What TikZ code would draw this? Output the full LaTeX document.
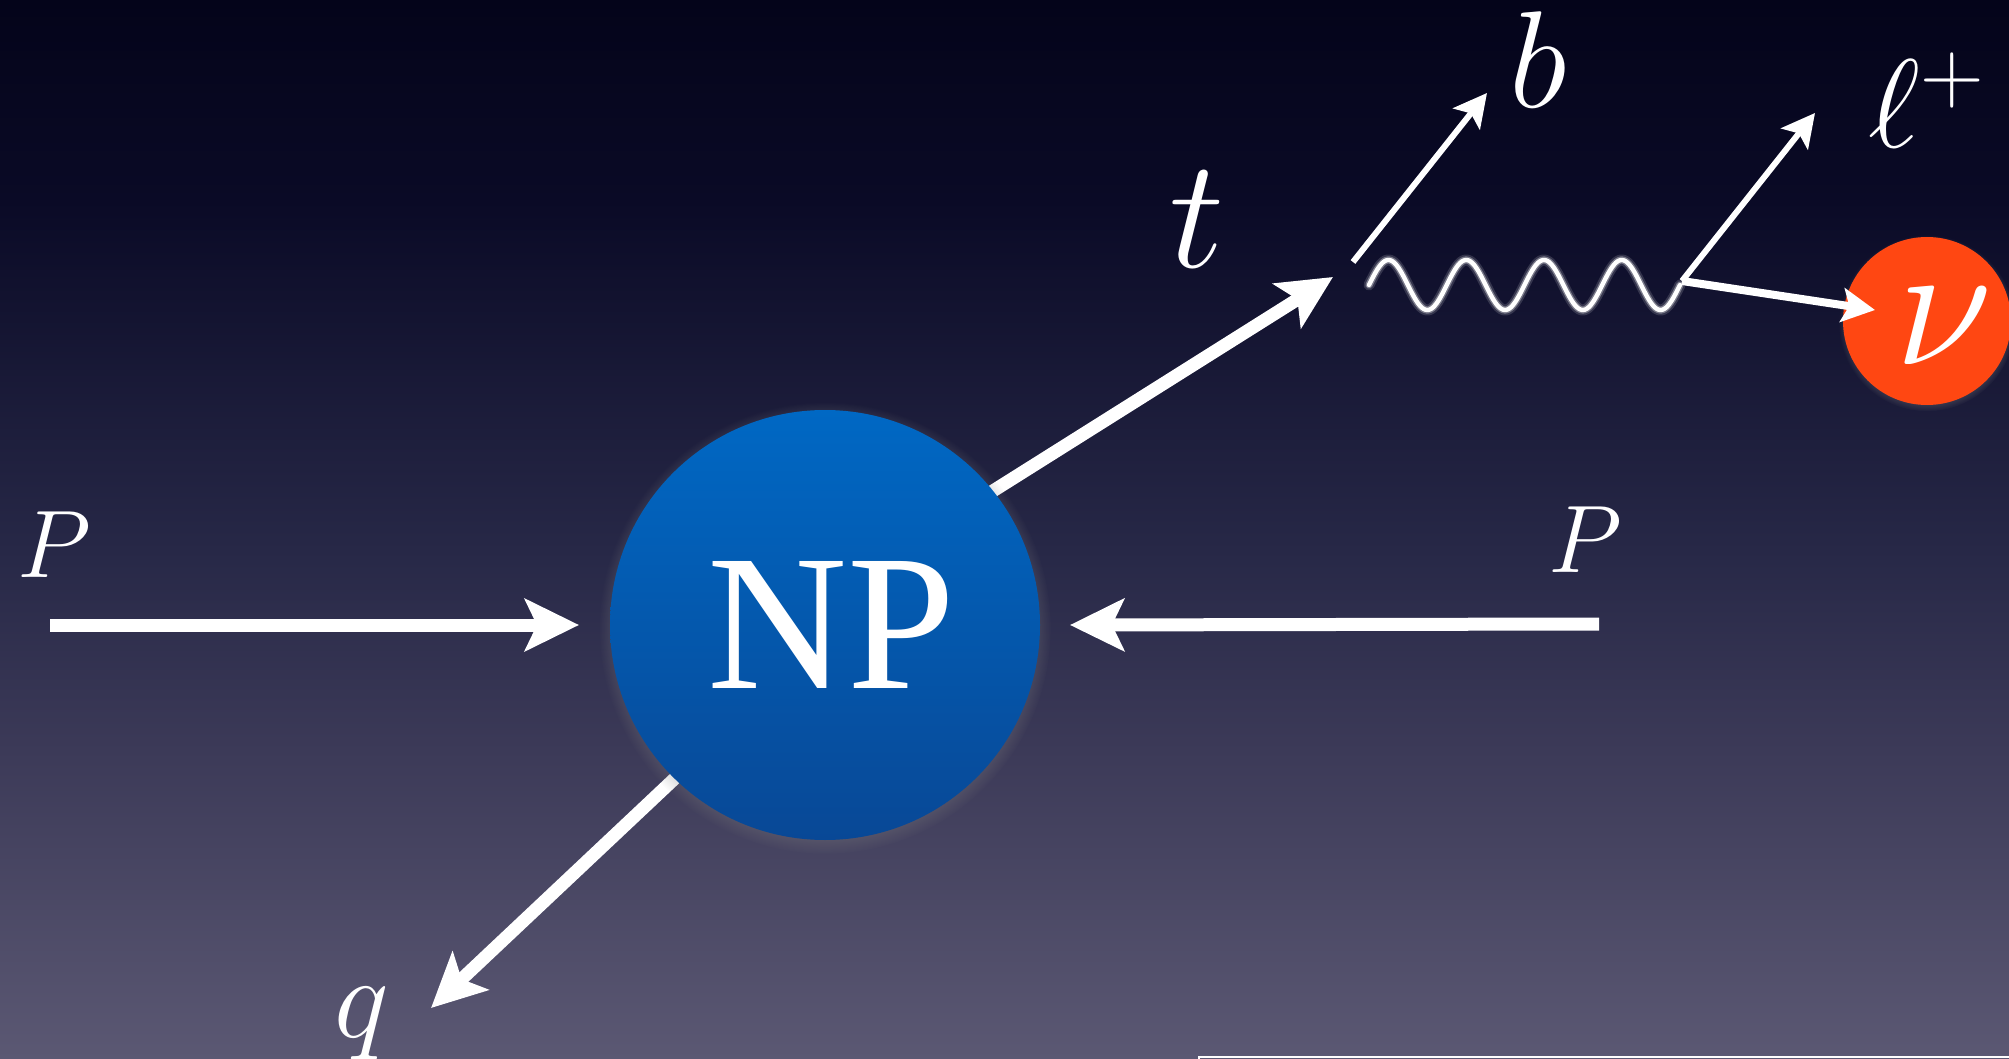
\documentclass[tikz,border=0pt]{standalone}
\usepackage{fix-cm}
\usepackage{fontspec}
\newfontfamily\npfont{Liberation Serif}
\usetikzlibrary{arrows.meta,shadows,fadings}
\definecolor{bgA}{RGB}{4,4,26}
\definecolor{bgB}{RGB}{10,10,38}
\definecolor{bgC}{RGB}{39,40,71}
\definecolor{bgD}{RGB}{60,58,88}
\definecolor{bgE}{RGB}{91,88,115}
\definecolor{npTop}{RGB}{0,104,196}
\definecolor{npBot}{RGB}{8,72,150}
\definecolor{nuRed}{RGB}{255,71,18}
\pgfdeclarelayer{bglayer}
\pgfdeclarelayer{linelayer}
\pgfsetlayers{bglayer,linelayer,main}
\begin{document}
\begin{tikzpicture}[x=0.5pt,y=-0.5pt,
  fatarrow/.style={white, line width=6.5pt, -{Stealth[length=27pt,width=26pt,inset=6pt]}},
  slimarrow/.style={white, line width=3pt, -{Stealth[length=16.5pt,width=17pt,inset=3.5pt]}},
  lbl/.style={text=white, inner sep=0pt},
  wline/.style={line join=round, line cap=round}
]
\useasboundingbox (0,0) rectangle (2009,1059);
\begin{pgfonlayer}{bglayer}
  \shade[top color=bgA, bottom color=bgB] (0,0) rectangle (2009,201);
  \shade[top color=bgB, bottom color=bgC] (0,200) rectangle (2009,551);
  \shade[top color=bgC, bottom color=bgD] (0,550) rectangle (2009,751);
  \shade[top color=bgD, bottom color=bgE] (0,750) rectangle (2009,1059);
\end{pgfonlayer}

% main blob
\node[circle, minimum size=215pt, inner sep=0pt, top color=npTop, bottom color=npBot,
      circular drop shadow={shadow xshift=0pt, shadow yshift=-1.5pt, shadow scale=1.05, opacity=0.6},
      text=white, font=\npfont\fontsize{97}{97}\selectfont] (NP) at (825,625) {\hspace{6pt}NP};

% neutrino blob
\node[circle, minimum size=84pt, inner sep=0pt, fill=nuRed,
      circular drop shadow={shadow xshift=0pt, shadow yshift=-1pt, shadow scale=1.05, opacity=0.5}] (nu) at (1927,321) {};
\node[lbl, font=\fontsize{89}{90}\selectfont] (nul) at (1944,326) {$\nu$};

% coordinates
\coordinate (PLs) at (50,625);   \coordinate (PLt) at (579,625);
\coordinate (PRs) at (1599,624); \coordinate (PRt) at (1070,625);
\coordinate (tb) at (826,596);   \coordinate (tt) at (1333,277);
\coordinate (qb) at (825,637);   \coordinate (qt) at (431,1008);
\coordinate (bv) at (1353,262);  \coordinate (bt) at (1487,93);
\coordinate (Wv) at (1682,281);  \coordinate (lt) at (1815,113);
\coordinate (nutip) at (1875,310);

% labels
\node[lbl, font=\fontsize{48}{50}\selectfont] (PL) at (54,545) {$P$};
\node[lbl, font=\fontsize{48}{50}\selectfont] (PR) at (1585,540) {$P$};
\node[lbl, font=\fontsize{78}{80}\selectfont] (tl) at (1197,220) {$t$};
\node[lbl, font=\fontsize{69}{70}\selectfont] (bl) at (1538,60) {$b$};
\node[lbl, font=\fontsize{63}{64}\selectfont, anchor=base] (ll) at (1927,148) {$\ell^+$};
\node[lbl, font=\fontsize{58}{60}\selectfont, anchor=base] (ql) at (362,1037) {$q$};

% lines behind the blob
\begin{pgfonlayer}{linelayer}
  \draw[fatarrow] (tb) -- (tt);
  \draw[fatarrow] (qb) -- (qt);
\end{pgfonlayer}

% incoming protons
\draw[fatarrow] (PLs) -- (PLt);
\draw[fatarrow] (PRs) -- (PRt);

% decay products
\draw[slimarrow] (bv) -- (bt);
\draw[white, opacity=0.15, line width=5.5pt, wline] plot[domain=0:311, samples=200] ({1369+\x}, {285-25*sin(\x/77.75*360)});
\draw[white, opacity=0.35, line width=3.6pt, wline] plot[domain=0:311, samples=200] ({1369+\x}, {285-25*sin(\x/77.75*360)});
\draw[white, line width=2.2pt, wline] plot[domain=0:311, samples=200] ({1369+\x}, {285-25*sin(\x/77.75*360)});
\draw[slimarrow] (Wv) -- (lt);
\draw[slimarrow, line width=4pt] (Wv) -- (nutip);

% frame edge at the bottom
\draw[white, line width=1pt] (1199,1062) -- (1199,1057) -- (2012,1057);
\end{tikzpicture}
\end{document}
